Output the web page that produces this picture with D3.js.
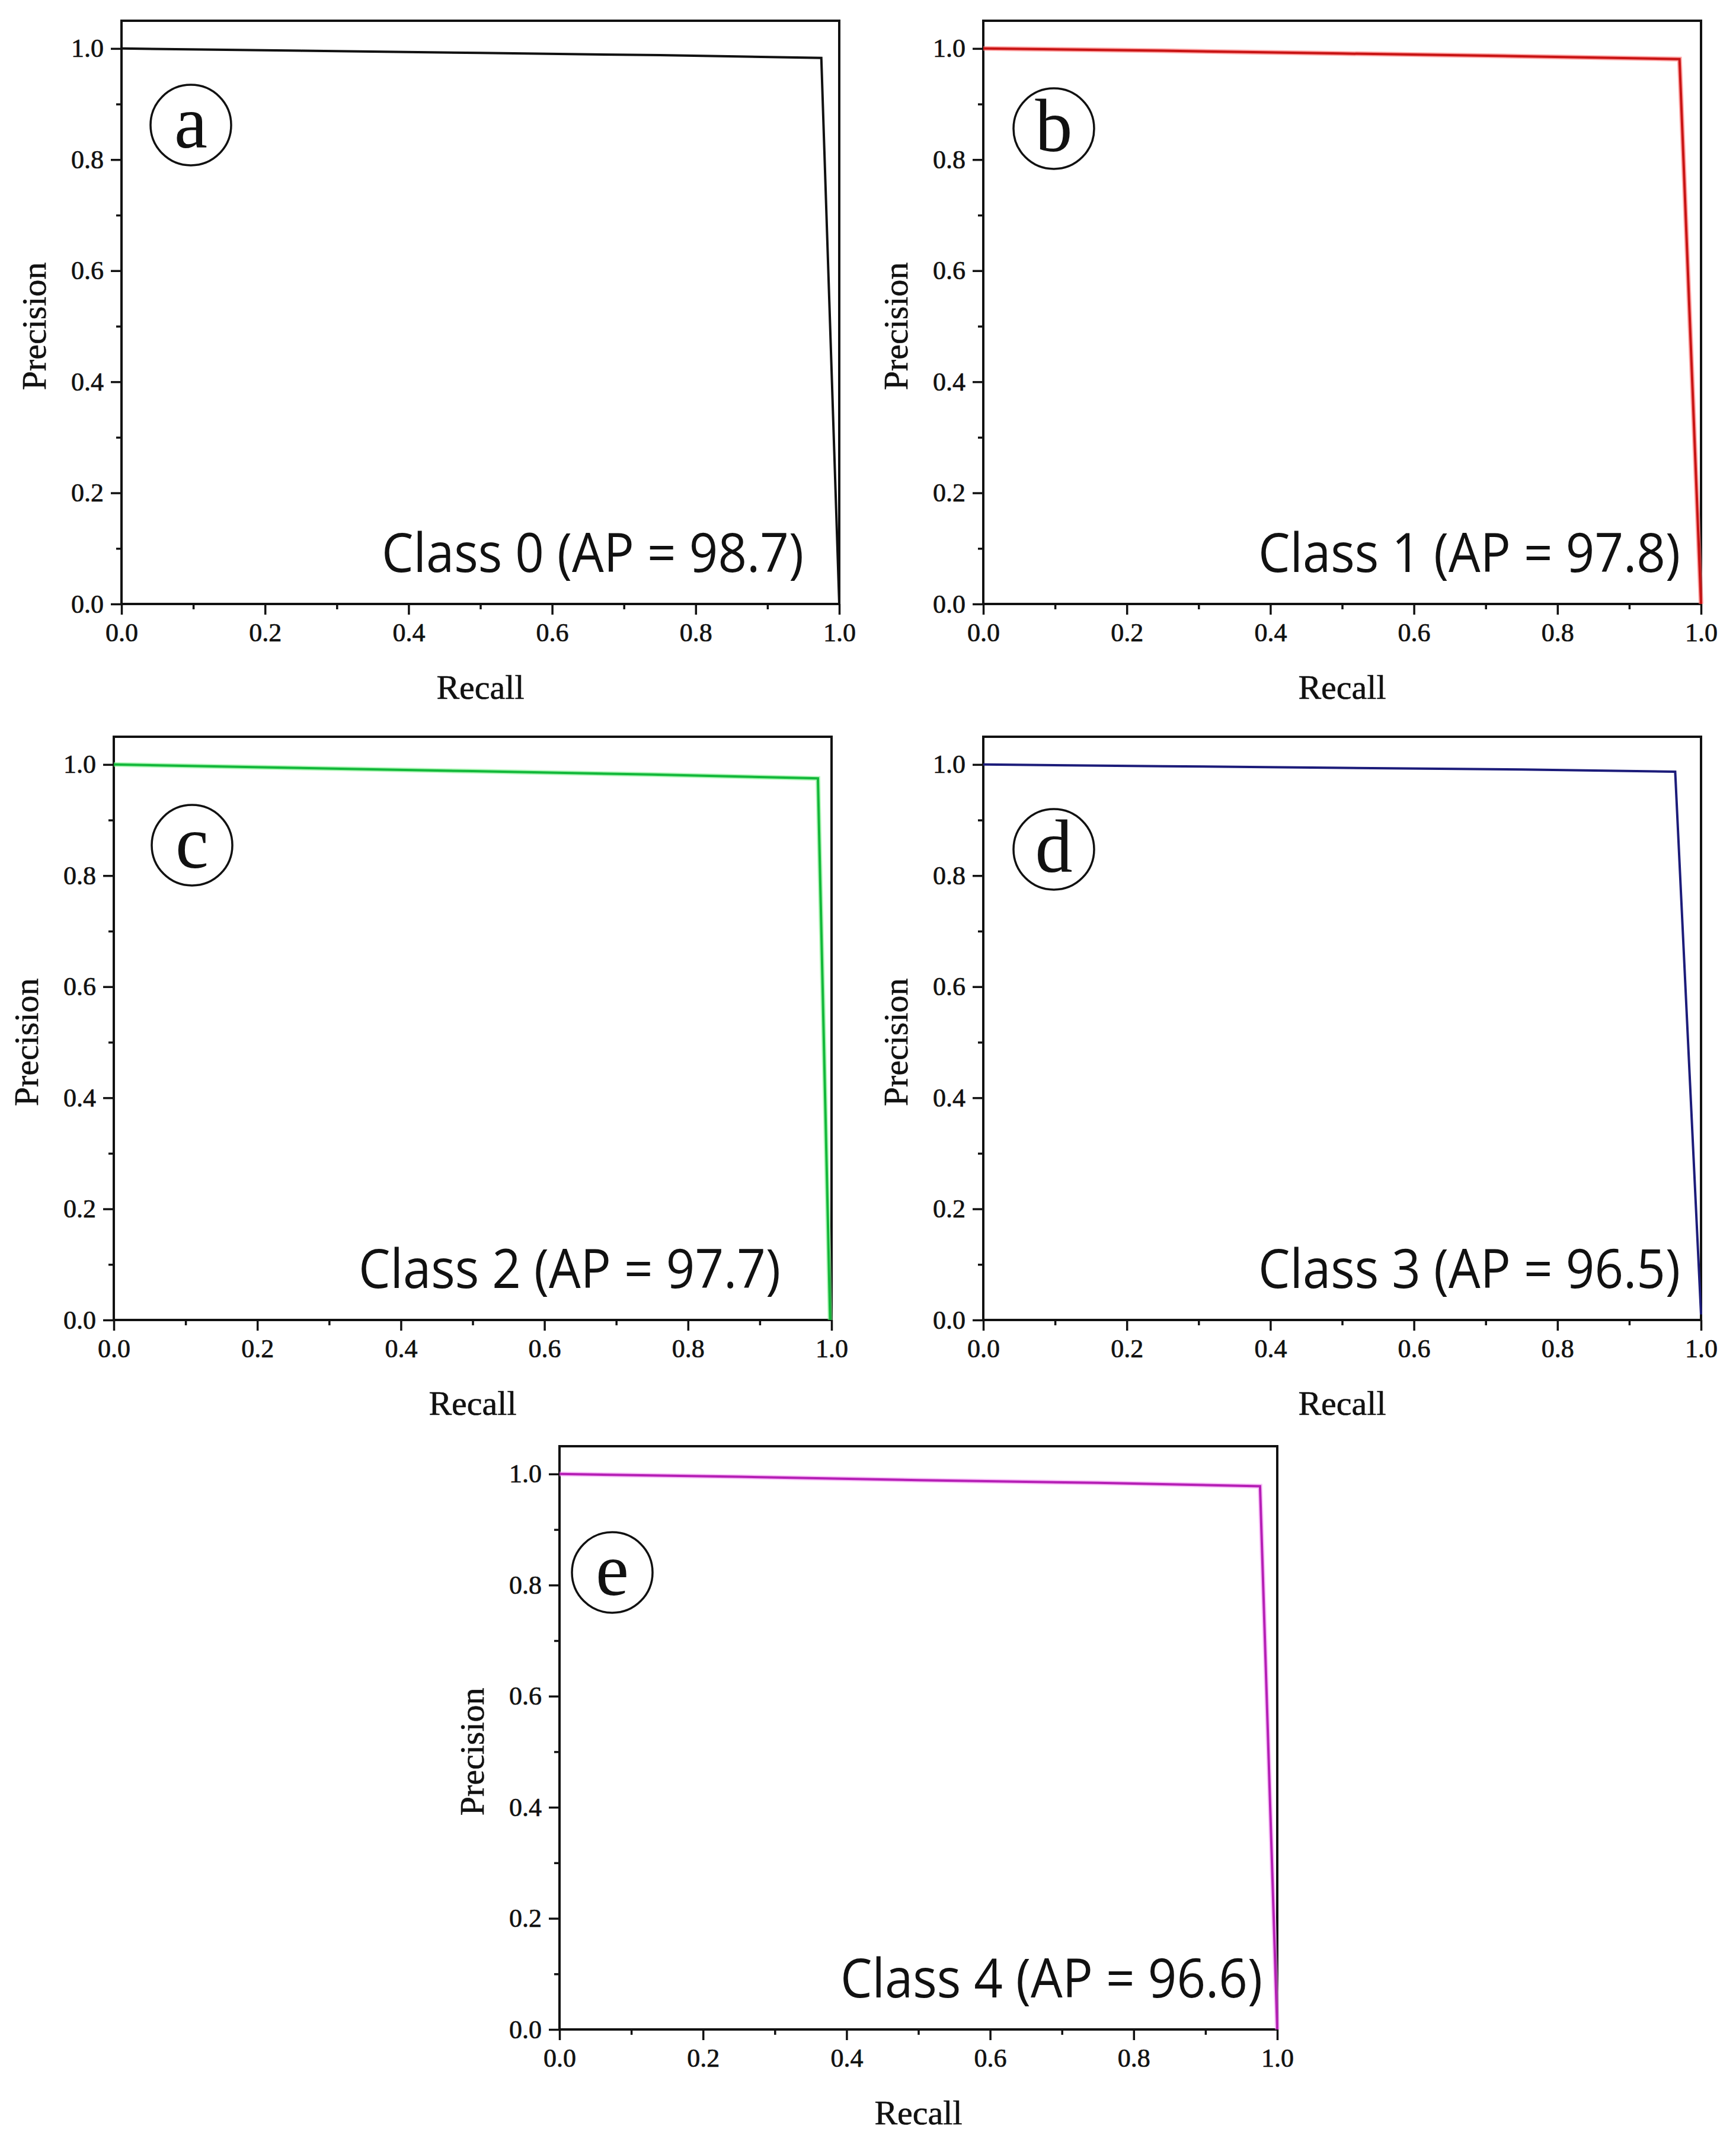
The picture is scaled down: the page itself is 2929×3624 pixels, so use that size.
<!DOCTYPE html>
<html>
<head>
<meta charset="utf-8">
<script src="https://cdn.jsdelivr.net/npm/d3@7"></script>
<style>
  body { margin: 0; background: #fff; }
  svg { display: block; }
</style>
</head>
<body>
<div id="chart"></div>
<script>
// precision-recall curves, one per class
const classNames = ['Class 0', 'Class 1', 'Class 2', 'Class 3', 'Class 4']
const apValues = ['98.7', '97.8', '97.7', '96.5', '96.6']
const panelLetters = ['a', 'b', 'c', 'd', 'e']

const recall0 = [0.0, 0.25, 0.5, 0.75, 0.975, 1.0]
const precision0 = [1.0, 0.996, 0.992, 0.988, 0.983, 0.0]
const recall1 = [0.0, 0.25, 0.5, 0.75, 0.970, 1.0]
const precision1 = [1.0, 0.996, 0.991, 0.986, 0.981, 0.0]
const recall2 = [0.0, 0.25, 0.5, 0.75, 0.981, 0.998]
const precision2 = [1.0, 0.994, 0.988, 0.982, 0.975, 0.0]
const recall3 = [0.0, 0.25, 0.5, 0.75, 0.964, 1.0]
const precision3 = [1.0, 0.997, 0.994, 0.991, 0.987, 0.01]
const recall4 = [0.0, 0.25, 0.5, 0.75, 0.976, 1.0]
const precision4 = [1.0, 0.995, 0.989, 0.984, 0.978, 0.0]

const recalls = [recall0, recall1, recall2, recall3, recall4]
const precisions = [precision0, precision1, precision2, precision3, precision4]

const tickValues = [0, 0.2, 0.4, 0.6, 0.8, 1.0]
const minorTickValues = [0.1, 0.3, 0.5, 0.7, 0.9]

// line colours per class: core stroke and soft halo around it
const lineColors = ['#111111', '#c81414', '#12b83a', '#1c1c7a', '#b51fb5']
const haloColors = ['none', '#ff6a6a', '#7ff08a', 'none', '#f59af5']

const W = 2929
const H = 3624
const panelW = 1211
const panelH = 984

// top-left corner of each plot frame
const panelPos = [
    {x: 205, y: 35},
    {x: 1659, y: 35},
    {x: 192, y: 1243},
    {x: 1659, y: 1243},
    {x: 944, y: 2440}
]
// circle label centre, offset from the frame corner
const letterPos = [
    {dx: 117, dy: 176},
    {dx: 119, dy: 182},
    {dx: 132, dy: 183},
    {dx: 119, dy: 190},
    {dx: 89, dy: 213}
]
// gap between the class label's end and the right frame
const labelGap = [60, 35, 86, 35, 25]

const svg = d3.select('#chart')
    .append('svg')
    .attr('width', W)
    .attr('height', H)

const xScale = d3.scaleLinear().domain([0, 1]).range([0, panelW])
const yScale = d3.scaleLinear().domain([0, 1.05]).range([panelH, 0])

const serif = '"Liberation Serif", "Times New Roman", serif'

classNames.forEach((name, i) => {

    const g = svg.append('g')
        .attr('transform', `translate(${panelPos[i].x}, ${panelPos[i].y})`)

    // minor ticks first so major axis draws over them
    g.append('g')
        .attr('transform', `translate(0, ${panelH})`)
        .call(d3.axisBottom(xScale).tickValues(minorTickValues).tickSize(9).tickFormat(''))
        .call(a => a.select('.domain').remove())
        .selectAll('line').attr('stroke', '#111').attr('stroke-width', 3.5)

    g.append('g')
        .call(d3.axisLeft(yScale).tickValues(minorTickValues).tickSize(9).tickFormat(''))
        .call(a => a.select('.domain').remove())
        .selectAll('line').attr('stroke', '#111').attr('stroke-width', 3.5)

    const xAxis = g.append('g')
        .attr('transform', `translate(0, ${panelH})`)
        .call(d3.axisBottom(xScale)
            .tickValues(tickValues)
            .tickSize(18)
            .tickSizeOuter(0)
            .tickPadding(14)
            .tickFormat(d3.format('.1f')))

    const yAxis = g.append('g')
        .call(d3.axisLeft(yScale)
            .tickValues(tickValues)
            .tickSize(18)
            .tickSizeOuter(0)
            .tickPadding(12)
            .tickFormat(d3.format('.1f')))

    ;[xAxis, yAxis].forEach(ax => {
        ax.select('.domain').remove()
        ax.selectAll('line').attr('stroke', '#111').attr('stroke-width', 3.5)
        ax.selectAll('text')
            .attr('font-family', serif)
            .attr('font-size', 44)
            .attr('fill', '#111')
            .attr('stroke', '#111')
            .attr('stroke-width', 0.7)
    })

    // plot frame
    g.append('rect')
        .attr('x', 0)
        .attr('y', 0)
        .attr('width', panelW)
        .attr('height', panelH)
        .attr('fill', 'none')
        .attr('stroke', '#111')
        .attr('stroke-width', 4)

    // axis titles
    g.append('text')
        .attr('x', panelW / 2)
        .attr('y', panelH + 160)
        .attr('text-anchor', 'middle')
        .attr('font-family', serif)
        .attr('font-size', 58)
        .attr('fill', '#111')
        .attr('stroke', '#111')
        .attr('stroke-width', 0.6)
        .text('Recall')

    g.append('text')
        .attr('transform', `translate(-128, ${yScale(0.5)}) rotate(-90)`)
        .attr('text-anchor', 'middle')
        .attr('font-family', serif)
        .attr('font-size', 58)
        .attr('fill', '#111')
        .attr('stroke', '#111')
        .attr('stroke-width', 0.6)
        .text('Precision')

    // curve
    const pts = recalls[i].map((r, k) => ({r: r, p: precisions[i][k]}))
    const line = d3.line()
        .x(d => xScale(d.r))
        .y(d => yScale(d.p))

    if (haloColors[i] !== 'none') {
        g.append('path')
            .datum(pts)
            .attr('d', line)
            .attr('fill', 'none')
            .attr('stroke', haloColors[i])
            .attr('stroke-width', 8)
            .attr('stroke-opacity', 0.6)
    }
    g.append('path')
        .datum(pts)
        .attr('d', line)
        .attr('fill', 'none')
        .attr('stroke', lineColors[i])
        .attr('stroke-width', 4)

    // circled panel letter
    const lp = letterPos[i]
    g.append('circle')
        .attr('cx', lp.dx)
        .attr('cy', lp.dy)
        .attr('r', 68)
        .attr('fill', '#fff')
        .attr('stroke', '#111')
        .attr('stroke-width', 3.5)
    g.append('text')
        .attr('x', lp.dx)
        .attr('y', lp.dy)
        .attr('dy', '0.3em')
        .attr('text-anchor', 'middle')
        .attr('font-family', serif)
        .attr('font-size', 126)
        .attr('fill', '#111')
        .text(panelLetters[i])

    // class label, lower right
    g.append('text')
        .attr('x', panelW - labelGap[i])
        .attr('y', panelH - 54)
        .attr('text-anchor', 'end')
        .attr('font-family', '"Open Sans", "Noto Sans", sans-serif')
        .attr('font-size', 92)
        .attr('textLength', 712)
        .attr('lengthAdjust', 'spacingAndGlyphs')
        .attr('fill', '#111')
        .text(`${name} (AP = ${apValues[i]})`)
})
</script>
</body>
</html>
